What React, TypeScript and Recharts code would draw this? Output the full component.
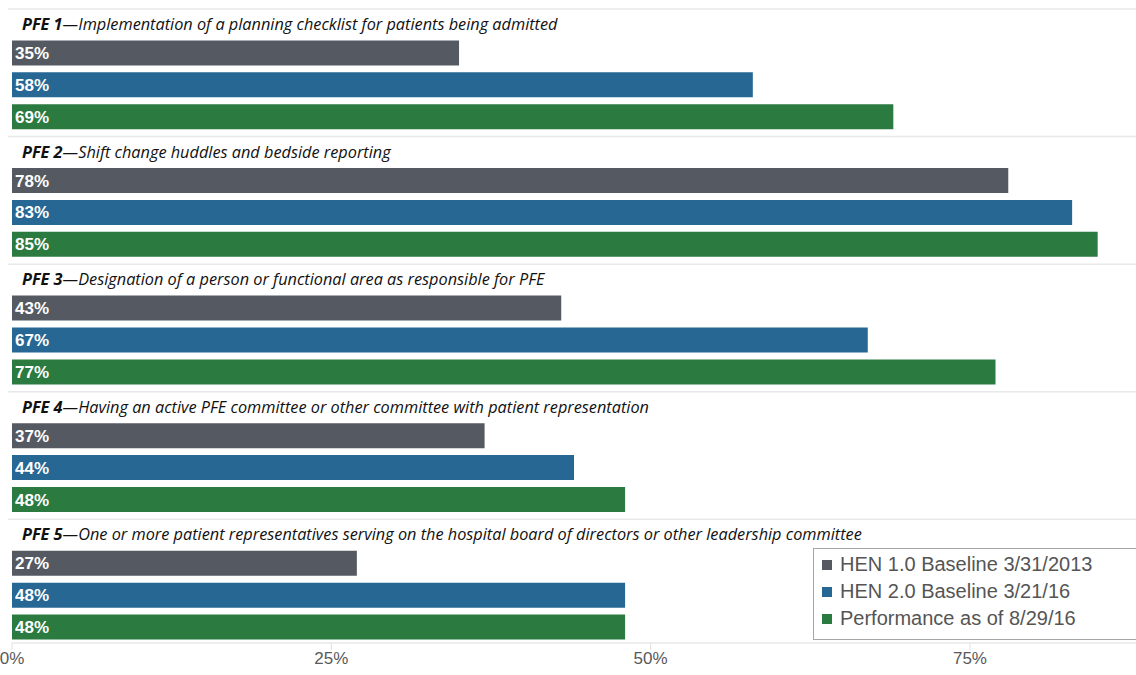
import React from 'react';
import { BarChart, Bar, XAxis, YAxis, LabelList } from 'recharts';

const titles = [
  ['PFE 1', 'Implementation of a planning checklist for patients being admitted'],
  ['PFE 2', 'Shift change huddles and bedside reporting'],
  ['PFE 3', 'Designation of a person or functional area as responsible for PFE'],
  ['PFE 4', 'Having an active PFE committee or other committee with patient representation'],
  ['PFE 5', 'One or more patient representatives serving on the hospital board of directors or other leadership committee'],
];
const hen1 = [35, 78, 43, 37, 27];
const hen2 = [58, 83, 67, 44, 48];
const perf = [69, 85, 77, 48, 48];
const ticks = [0, 25, 50, 75];

const GRAY = '#555a62';
const BLUE = '#266793';
const GREEN = '#2b7a3f';

// one title row + three bar rows per PFE item; only one series filled per row
const rows: any[] = [];
titles.forEach((t, i) => {
  rows.push({ id: `t${i}`, kind: 'title', bold: t[0], text: t[1] });
  rows.push({ id: `a${i}`, kind: 'bar', hen1: hen1[i] });
  rows.push({ id: `b${i}`, kind: 'bar', hen2: hen2[i] });
  rows.push({ id: `c${i}`, kind: 'bar', perf: perf[i] });
});
const byId: Record<string, any> = {};
rows.forEach((r) => (byId[r.id] = r));

const renderTitleTick = (props: any) => {
  const { y, payload } = props;
  const row = byId[payload.value] || rows[payload.index];
  if (!row || row.kind !== 'title') return <g />;
  return (
    <g>
      <line x1={8} x2={1136} y1={y - 12} y2={y - 12} stroke="#e8e8e8" strokeWidth={1.5} />
      <text
        x={22}
        y={y + 9}
        fontFamily="'Open Sans', sans-serif"
        fontStyle="italic"
        fontSize={16.3}
        fill="#111"
      >
        <tspan fontWeight="bold">{row.bold}</tspan>
        <tspan>{'\u2014' + row.text}</tspan>
      </text>
    </g>
  );
};

const valueLabel = (props: any) => {
  const { x, y, height, value } = props;
  if (value == null) return null;
  return (
    <text
      x={x + 3}
      y={y + height / 2 + 6}
      fill="#fff"
      fontFamily="'Liberation Sans', Arial, sans-serif"
      fontWeight="bold"
      fontSize={17}
    >
      {value}%
    </text>
  );
};

const legendItems = [
  { label: 'HEN 1.0 Baseline 3/31/2013', color: GRAY },
  { label: 'HEN 2.0 Baseline 3/21/16', color: BLUE },
  { label: 'Performance as of 8/29/16', color: GREEN },
];

const LegendBox = () => (
  <div
    style={{
      position: 'absolute',
      left: 813,
      top: 548,
      width: 325,
      boxSizing: 'border-box',
      border: '1.5px solid #a6a6a6',
      background: '#fff',
      padding: '2px 0 7px 8px',
      fontFamily: "'Liberation Sans', Arial, sans-serif",
      fontSize: 20,
      color: '#555',
      lineHeight: '27px',
    }}
  >
    {legendItems.map((it) => (
      <div key={it.label} style={{ display: 'flex', alignItems: 'center', whiteSpace: 'nowrap' }}>
        <span style={{ width: 10, height: 10, background: it.color, marginRight: 8, display: 'inline-block' }} />
        {it.label}
      </div>
    ))}
  </div>
);

export default function App() {
  return (
    <div style={{ position: 'absolute', left: 0, top: 0, width: 1136, height: 675, background: '#fff', overflow: 'hidden' }}>
      <BarChart
        width={1136}
        height={675}
        data={rows}
        layout="vertical"
        margin={{ top: 5, right: 0, bottom: 0, left: 11 }}
        barCategoryGap={3.5}
      >
        <XAxis
          type="number"
          domain={[0, 88]}
          ticks={ticks}
          allowDataOverflow
          tickFormatter={(v) => `${v}%`}
          axisLine={{ stroke: '#e8e8e8', strokeWidth: 1.5 }}
          tickLine={{ stroke: '#e0e0e0' }}
          tickSize={7}
          tick={{ fill: '#595959', fontSize: 17, fontFamily: "'Liberation Sans', Arial, sans-serif" }}
          height={32}
        />
        <YAxis type="category" dataKey="id" width={1} axisLine={false} tickLine={false} tick={renderTitleTick} interval={0} />
        <Bar dataKey="hen1" stackId="s" fill={GRAY} isAnimationActive={false}>
          <LabelList dataKey="hen1" content={valueLabel} />
        </Bar>
        <Bar dataKey="hen2" stackId="s" fill={BLUE} isAnimationActive={false}>
          <LabelList dataKey="hen2" content={valueLabel} />
        </Bar>
        <Bar dataKey="perf" stackId="s" fill={GREEN} isAnimationActive={false}>
          <LabelList dataKey="perf" content={valueLabel} />
        </Bar>
      </BarChart>
      <LegendBox />
    </div>
  );
}
